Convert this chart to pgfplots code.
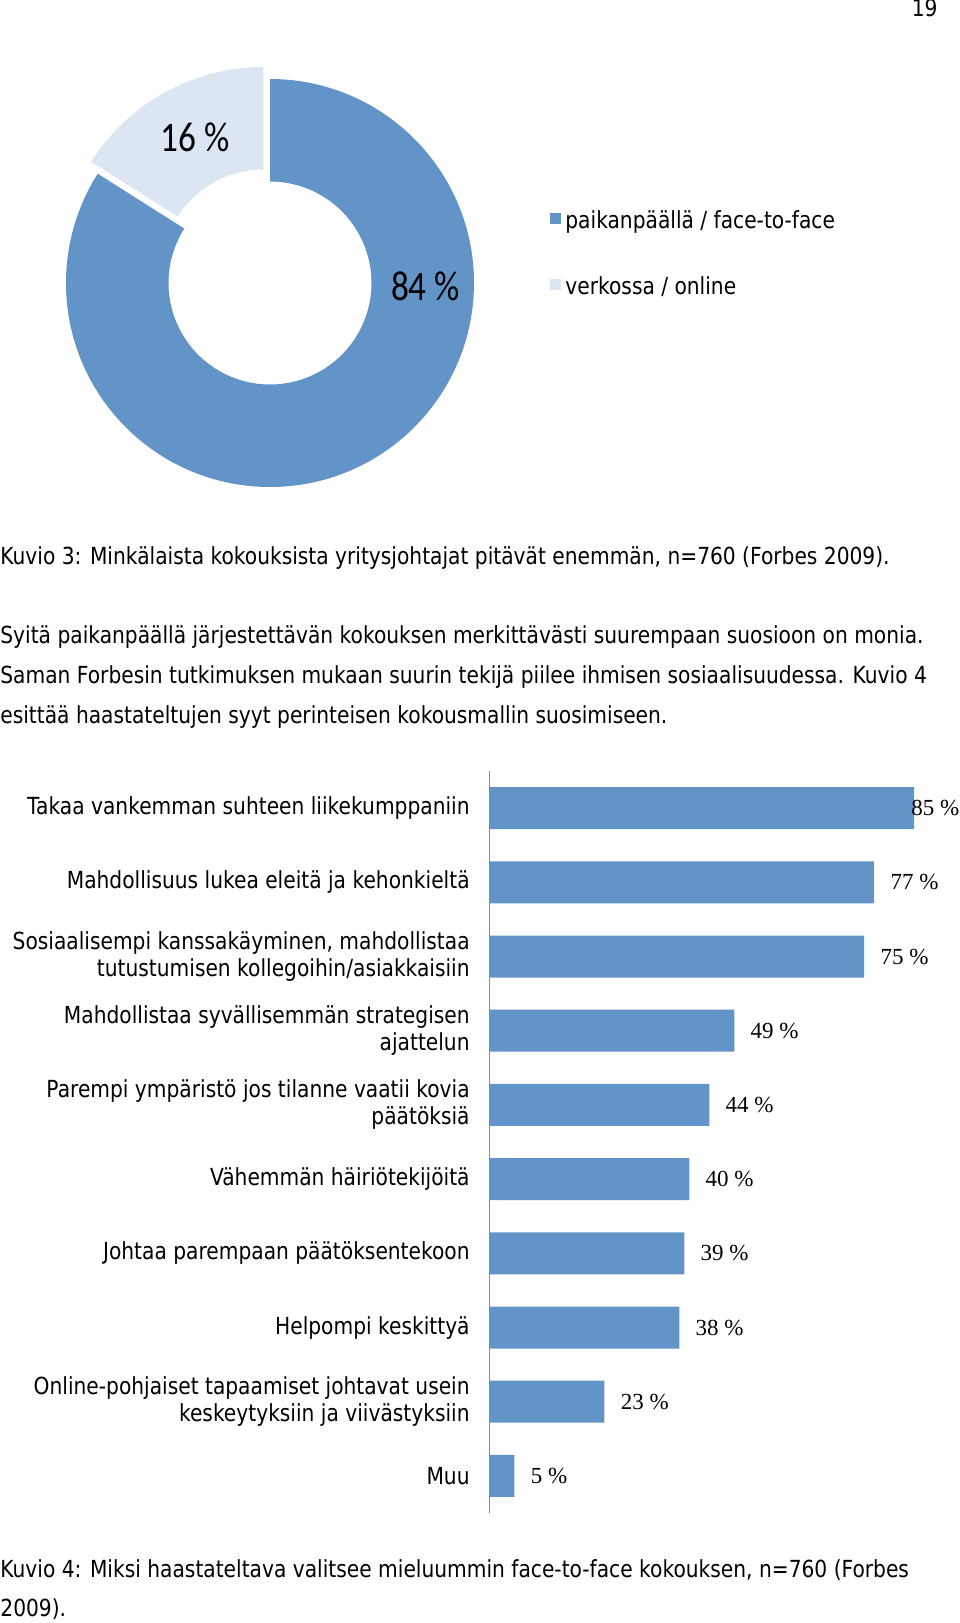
\documentclass[border=0pt]{standalone}
\usepackage{fontspec}
\setmainfont{DejaVu Sans}[FakeStretch=0.86]
\newfontfamily\pctfont{Carlito}[FakeStretch=0.84]
\newfontfamily\valfont{Liberation Serif}
\usepackage{pgfplots}
\pgfplotsset{compat=1.18}
\usepackage{pgfplotstable}
\definecolor{barblue}{HTML}{6294C8}
\definecolor{lightblue}{HTML}{DCE6F2}
\definecolor{axisgray}{HTML}{8A8A8A}

% bar chart: y position (9 = top), value, label shift (bp)
\pgfplotstableread{
y v s
9 85 -1.5
8 77 8
7 75 8
6 49 8
5 44 8
4 40 8
3 39 8
2 38 8
1 23 8
0 5 8
}\bardata

% donut values
\def\vFace{84}
\def\vOnline{16}
\pgfmathsetmacro\aEnd{90-\vFace*3.6}
\pgfmathsetmacro\bEnd{90+\vOnline*3.6}
\pgfmathsetmacro\bMid{90+\vOnline*1.8}

\newcommand\body{\fontsize{11.75bp}{20bp}\selectfont}

\begin{document}
\begin{tikzpicture}
\path[use as bounding box] (0bp,0bp) rectangle (480bp,-811.5bp);
\begin{scope}[x=0.5bp,y=-0.5bp, every node/.style={inner sep=0pt, font=\body}]
\node[anchor=base east] at (938,16) {19};
\node[anchor=base west] at (0,565) {Kuvio 3: Minkälaista kokouksista yritysjohtajat pitävät enemmän, n=760 (Forbes 2009).};
\node[anchor=base west] at (0,644) {Syitä paikanpäällä järjestettävän kokouksen merkittävästi suurempaan suosioon on monia.};
\node[anchor=base west] at (0,684) {Saman Forbesin tutkimuksen mukaan suurin tekijä piilee ihmisen sosiaalisuudessa. Kuvio 4};
\node[anchor=base west] at (0,723.5) {esittää haastateltujen syyt perinteisen kokousmallin suosimiseen.};
\node[anchor=base west] at (0,1578) {Kuvio 4: Miksi haastateltava valitsee mieluummin face-to-face kokouksen, n=760 (Forbes};
\node[anchor=base west] at (0,1617) {2009).};
\end{scope}

% ---------- donut ----------
\begin{axis}[at={(135bp,-141.5bp)}, anchor=center, scale only axis,
  width=210bp, height=210bp, xmin=-210, xmax=210, ymin=-210, ymax=210,
  hide axis, clip=false,
  legend style={at={(1.1667,0.6745)}, anchor=north west, draw=none, fill=none,
    inner sep=0pt, row sep=21bp, column sep=2bp, font=\body,
    nodes={inner sep=0pt, text height=9bp, text depth=3bp}},
  legend cell align=left,
  legend image code/.code={\fill[#1] (0bp,-0.9bp) rectangle (5.5bp,4.6bp);}]
\addlegendimage{fill=barblue, draw=none}
\addlegendentry{paikanpäällä / face-to-face}
\addlegendimage{fill=lightblue, draw=none}
\addlegendentry{verkossa / online}
\fill[barblue] ([shift={(90:102bp)}]axis cs:0,0) arc[start angle=90, end angle=\aEnd, radius=102bp]
  -- ([shift={(\aEnd:50.75bp)}]axis cs:0,0) arc[start angle=\aEnd, end angle=90, radius=50.75bp] -- cycle;
\begin{scope}[shift={(\bMid:6.85bp)}]
\fill[lightblue] ([shift={(90:102bp)}]axis cs:0,0) arc[start angle=90, end angle=\bEnd, radius=102bp]
  -- ([shift={(\bEnd:50.75bp)}]axis cs:0,0) arc[start angle=\bEnd, end angle=90, radius=50.75bp] -- cycle;
\end{scope}
\node[font={\pctfont\fontsize{21bp}{25bp}\selectfont}, anchor=base, inner sep=0pt] at (axis cs:155.5,-17.7) {\vFace\ \%};
\node[font={\pctfont\fontsize{21bp}{25bp}\selectfont}, anchor=base, inner sep=0pt] at (axis cs:-75,131.3) {\vOnline\ \%};
\end{axis}

% ---------- bar chart ----------
\begin{axis}[at={(244.75bp,-756.5bp)}, anchor=south west, scale only axis,
  width=212.3bp, height=371bp,
  xbar, xmin=0, xmax=85, ymin=-0.5, ymax=9.5, bar width=0.566,
  axis x line=none, axis y line=left,
  y axis line style={-, draw=axisgray, line width=0.75bp},
  xtick=\empty, ytick={0,...,9}, major tick length=0pt,
  yticklabels={Muu,
    {Online-pohjaiset tapaamiset johtavat usein\\keskeytyksiin ja viivästyksiin},
    Helpompi keskittyä,
    Johtaa parempaan päätöksentekoon,
    Vähemmän häiriötekijöitä,
    {Parempi ympäristö jos tilanne vaatii kovia\\päätöksiä},
    {Mahdollistaa syvällisemmän strategisen\\ajattelun},
    {Sosiaalisempi kanssakäyminen, mahdollistaa\\tutustumisen kollegoihin/asiakkaisiin},
    Mahdollisuus lukea eleitä ja kehonkieltä,
    Takaa vankemman suhteen liikekumppaniin},
  yticklabel style={font=\fontsize{11.75bp}{13.5bp}\selectfont, align=right, inner sep=0pt, xshift=-9.75bp},
  point meta=x,
  /pgf/number format/assume math mode=true,
  nodes near coords={\pgfmathprintnumber{\pgfplotspointmeta}\ \%},
  visualization depends on={\thisrow{s}\as\lblshift},
  every node near coord/.append style={font={\valfont\fontsize{11.5bp}{11.5bp}\selectfont}, anchor=west, inner sep=0pt, xshift=\lblshift bp, text=black},
  clip=false]
\addplot[fill=barblue, draw=none] table[x=v, y=y] {\bardata};
\end{axis}
\end{tikzpicture}
\end{document}
